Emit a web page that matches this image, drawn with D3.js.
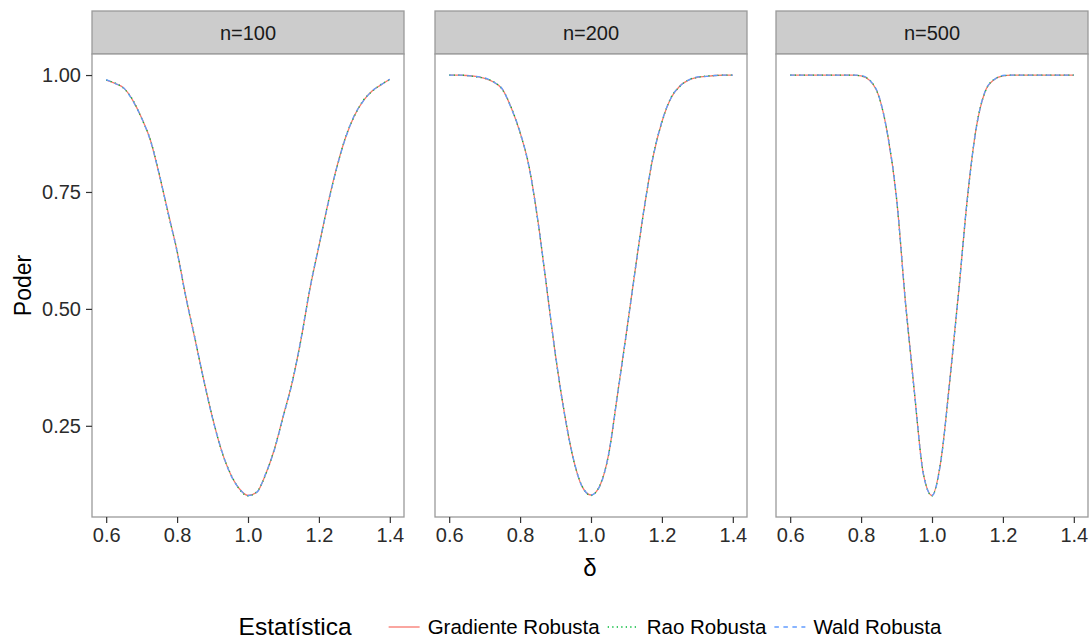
<!DOCTYPE html>
<html>
<head>
<meta charset="utf-8">
<script src="https://cdn.jsdelivr.net/npm/d3@7"></script>
<style>
  html, body { margin: 0; padding: 0; background: #ffffff; }
  svg { display: block; font-family: "Liberation Sans", Arial, sans-serif; }
</style>
</head>
<body>
<svg id="chart" width="1092" height="640"></svg>
<script>
// ---- data ----
const panels = ["n=100", "n=200", "n=500"];
const statistics = ["Gradiente Robusta", "Rao Robusta", "Wald Robusta"];
const delta = [0.6, 0.625, 0.65, 0.675, 0.7, 0.725, 0.75, 0.775, 0.8, 0.825, 0.85, 0.875, 0.9, 0.925, 0.95, 0.975,
               1.0, 1.025, 1.05, 1.075, 1.1, 1.125, 1.15, 1.175, 1.2, 1.225, 1.25, 1.275, 1.3, 1.325, 1.35, 1.375, 1.4];

const gradiente100 = [0.989, 0.982, 0.972, 0.946, 0.908, 0.860, 0.786, 0.705, 0.623, 0.525, 0.437, 0.349, 0.267, 0.198, 0.148, 0.116,
                      0.101, 0.108, 0.147, 0.201, 0.273, 0.344, 0.437, 0.544, 0.634, 0.723, 0.802, 0.866, 0.913, 0.945, 0.966, 0.979, 0.991];
const rao100       = [0.989, 0.983, 0.971, 0.947, 0.907, 0.861, 0.788, 0.703, 0.624, 0.523, 0.439, 0.347, 0.268, 0.197, 0.149, 0.115,
                      0.100, 0.109, 0.146, 0.202, 0.271, 0.345, 0.436, 0.546, 0.633, 0.724, 0.800, 0.867, 0.912, 0.946, 0.965, 0.980, 0.990];
const wald100      = [0.990, 0.982, 0.972, 0.945, 0.908, 0.859, 0.787, 0.704, 0.622, 0.524, 0.438, 0.348, 0.266, 0.199, 0.147, 0.116,
                      0.101, 0.108, 0.148, 0.200, 0.272, 0.343, 0.438, 0.545, 0.635, 0.722, 0.801, 0.865, 0.914, 0.944, 0.966, 0.979, 0.991];

const gradiente200 = [1.000, 1.000, 0.999, 0.997, 0.993, 0.985, 0.970, 0.930, 0.877, 0.805, 0.690, 0.545, 0.400, 0.277, 0.180, 0.120,
                      0.102, 0.122, 0.190, 0.318, 0.450, 0.585, 0.715, 0.825, 0.900, 0.950, 0.976, 0.989, 0.995, 0.997, 0.999, 1.000, 1.000];
const rao200       = [1.000, 1.000, 0.999, 0.996, 0.993, 0.986, 0.969, 0.931, 0.876, 0.806, 0.688, 0.547, 0.399, 0.278, 0.179, 0.121,
                      0.101, 0.123, 0.189, 0.319, 0.448, 0.586, 0.714, 0.826, 0.899, 0.951, 0.975, 0.990, 0.995, 0.998, 0.999, 1.000, 1.000];
const wald200      = [1.000, 1.000, 0.999, 0.997, 0.994, 0.985, 0.970, 0.929, 0.878, 0.804, 0.689, 0.546, 0.401, 0.276, 0.181, 0.120,
                      0.102, 0.121, 0.191, 0.317, 0.449, 0.584, 0.716, 0.824, 0.901, 0.950, 0.976, 0.989, 0.996, 0.997, 0.999, 1.000, 1.000];

const gradiente500 = [1.000, 1.000, 1.000, 1.000, 1.000, 1.000, 1.000, 1.000, 0.998, 0.988, 0.955, 0.872, 0.737, 0.515, 0.325, 0.150,
                      0.101, 0.175, 0.345, 0.535, 0.738, 0.888, 0.965, 0.990, 0.998, 1.000, 1.000, 1.000, 1.000, 1.000, 1.000, 1.000, 1.000];
const rao500       = [1.000, 1.000, 1.000, 1.000, 1.000, 1.000, 1.000, 1.000, 0.998, 0.989, 0.954, 0.873, 0.735, 0.517, 0.324, 0.151,
                      0.100, 0.176, 0.344, 0.537, 0.736, 0.889, 0.964, 0.991, 0.998, 1.000, 1.000, 1.000, 1.000, 1.000, 1.000, 1.000, 1.000];
const wald500      = [1.000, 1.000, 1.000, 1.000, 1.000, 1.000, 1.000, 1.000, 0.999, 0.988, 0.956, 0.871, 0.738, 0.514, 0.326, 0.149,
                      0.101, 0.174, 0.346, 0.534, 0.739, 0.887, 0.966, 0.990, 0.999, 1.000, 1.000, 1.000, 1.000, 1.000, 1.000, 1.000, 1.000];

const xTicks = [0.6, 0.8, 1.0, 1.2, 1.4];
const yTicks = [0.25, 0.50, 0.75, 1.00];

const seriesByPanel = [
  [gradiente100, rao100, wald100],
  [gradiente200, rao200, wald200],
  [gradiente500, rao500, wald500]
];

// ---- styling ----
const colors = ["#F8766D", "#00BA38", "#619CFF"];
const dashes = [null, "1.3,3.2", "4.5,4.5"];
const panelLefts = [92, 435, 776];
const panelWidth = 312;
const stripTop = 11, plotTop = 54, plotBottom = 517;
const tickFont = 20;
const textColor = "#2b2b2b";

const svg = d3.select("#chart");

const y = d3.scaleLinear().domain([0.055, 1.045]).range([plotBottom, plotTop]);

panels.forEach((name, pi) => {
  const left = panelLefts[pi];
  const x = d3.scaleLinear().domain([0.56, 1.44]).range([left, left + panelWidth]);
  const g = svg.append("g");

  // strip
  g.append("rect")
    .attr("x", left).attr("y", stripTop)
    .attr("width", panelWidth).attr("height", plotTop - stripTop)
    .attr("fill", "#CCCCCC").attr("stroke", "#9A9A9A").attr("stroke-width", 1.3);
  g.append("text")
    .attr("x", left + panelWidth / 2).attr("y", (stripTop + plotTop) / 2)
    .attr("dy", "0.36em").attr("text-anchor", "middle")
    .attr("font-size", tickFont).attr("fill", "#1A1A1A")
    .text(name);

  // panel background
  g.append("rect")
    .attr("x", left).attr("y", plotTop)
    .attr("width", panelWidth).attr("height", plotBottom - plotTop)
    .attr("fill", "#ffffff");

  // lines
  const line = d3.line()
    .x((d, i) => x(delta[i]))
    .y(d => y(d))
    .curve(d3.curveMonotoneX);
  seriesByPanel[pi].forEach((vals, si) => {
    const p = g.append("path")
      .datum(vals)
      .attr("d", line)
      .attr("fill", "none")
      .attr("stroke", colors[si])
      .attr("stroke-width", 1.3);
    if (dashes[si]) p.attr("stroke-dasharray", dashes[si]);
  });

  // border
  g.append("rect")
    .attr("x", left).attr("y", plotTop)
    .attr("width", panelWidth).attr("height", plotBottom - plotTop)
    .attr("fill", "none").attr("stroke", "#9A9A9A").attr("stroke-width", 1.3);

  // x axis
  const xAxis = d3.axisBottom(x).tickValues(xTicks).tickFormat(d3.format(".1f")).tickSize(6).tickPadding(5);
  const xa = g.append("g").attr("transform", `translate(0,${plotBottom})`).call(xAxis);
  xa.select(".domain").remove();
  xa.selectAll(".tick line").attr("stroke", "#333333").attr("stroke-width", 1.2);
  xa.selectAll(".tick text").attr("font-size", tickFont).attr("fill", textColor)
    .attr("font-family", "'Liberation Sans', Arial, sans-serif");

  // y axis only on first panel
  if (pi === 0) {
    const yAxis = d3.axisLeft(y).tickValues(yTicks).tickFormat(d3.format(".2f")).tickSize(6).tickPadding(5);
    const ya = g.append("g").attr("transform", `translate(${left},0)`).call(yAxis);
    ya.select(".domain").remove();
    ya.selectAll(".tick line").attr("stroke", "#333333").attr("stroke-width", 1.2);
    ya.selectAll(".tick text").attr("font-size", tickFont).attr("fill", textColor)
      .attr("font-family", "'Liberation Sans', Arial, sans-serif");
  }
});

// axis titles
svg.append("text")
  .attr("x", (panelLefts[0] + panelLefts[2] + panelWidth) / 2).attr("y", 576)
  .attr("text-anchor", "middle").attr("font-size", 24).attr("fill", "#000")
  .text("δ");
svg.append("text")
  .attr("transform", `translate(31,${(plotTop + plotBottom) / 2}) rotate(-90)`)
  .attr("text-anchor", "middle").attr("font-size", 23).attr("fill", "#000")
  .text("Poder");

// legend
const legend = svg.append("g");
const legendY = 627;
const title = legend.append("text")
  .attr("x", 0).attr("y", legendY).attr("dy", "0.34em")
  .attr("font-size", 24.5).attr("fill", "#000")
  .text("Estatística");
let cx = title.node().getComputedTextLength() + 37;
statistics.forEach((s, i) => {
  const k = legend.append("line")
    .attr("x1", cx).attr("x2", cx + 31)
    .attr("y1", legendY).attr("y2", legendY)
    .attr("stroke", colors[i]).attr("stroke-width", 1.3);
  if (dashes[i]) k.attr("stroke-dasharray", dashes[i]);
  cx += 39;
  const t = legend.append("text")
    .attr("x", cx).attr("y", legendY).attr("dy", "0.36em")
    .attr("font-size", 20.5).attr("fill", "#000")
    .text(s);
  cx += t.node().getComputedTextLength() + 8;
});
const totalW = cx - 8;
const center = (panelLefts[0] + panelLefts[2] + panelWidth) / 2;
legend.attr("transform", `translate(${center - totalW / 2},0)`);
</script>
</body>
</html>
